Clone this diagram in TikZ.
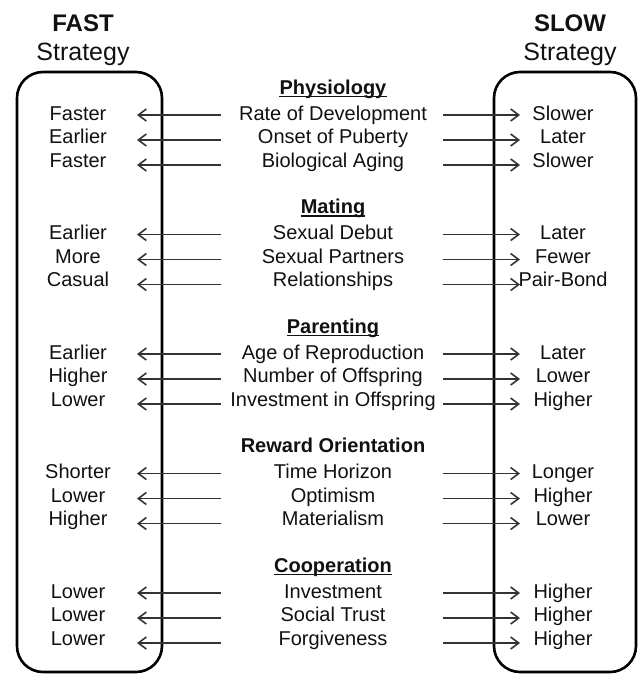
\documentclass[tikz,border=0pt]{standalone}
\usepackage{fontspec}
\setmainfont{Liberation Sans}
\usetikzlibrary{arrows.meta}
\definecolor{ink}{HTML}{111111}
\definecolor{arr}{HTML}{333333}
\begin{document}
\begin{tikzpicture}[x=1pt,y=-1pt,
  txt/.style={inner sep=0pt, anchor=base, font=\fontsize{20}{24}\selectfont, text=ink},
  hdr/.style={inner sep=0pt, anchor=base, font=\fontsize{20}{24}\selectfont\bfseries, text=ink},
  bigbold/.style={inner sep=0pt, anchor=base, font=\fontsize{24}{28}\selectfont\bfseries, text=ink},
  bigtxt/.style={inner sep=0pt, anchor=base, font=\fontsize{25}{30}\selectfont, text=ink},
  panel/.style={draw=black, line width=2.6pt, rounded corners=26pt},
  uline/.style={draw=ink, line width=1.5pt},
  link/.style={draw=arr, line width=1.8pt, -{Straight Barb[length=8pt,width=12pt,line width=1.6pt]}},
]
\useasboundingbox (0,0) rectangle (639,675);
\draw[panel] (17,72) rectangle (162,672);
\draw[panel] (494,72) rectangle (636,672);
\node[bigbold] (fast) at (83,31) {FAST};
\node[bigtxt] (fastS) at (83,60) {Strategy};
\node[bigbold] (slow) at (570,31) {SLOW};
\node[bigtxt] (slowS) at (570,60) {Strategy};
\foreach \k/\hd/\u/\la/\lb/\lc/\ca/\cb/\cc/\ra/\rb/\rc in {
 0/Physiology/1/Faster/Earlier/Faster/Rate of Development/Onset of Puberty/Biological Aging/Slower/Later/Slower,
 1/Mating/1/Earlier/More/Casual/Sexual Debut/Sexual Partners/Relationships/Later/Fewer/Pair-Bond,
 2/Parenting/1/Earlier/Higher/Lower/Age of Reproduction/Number of Offspring/Investment in Offspring/Later/Lower/Higher,
 3/Reward Orientation/0/Shorter/Lower/Higher/Time Horizon/Optimism/Materialism/Longer/Higher/Lower,
 4/Cooperation/1/Lower/Lower/Lower/Investment/Social Trust/Forgiveness/Higher/Higher/Higher}{
  \pgfmathsetmacro\hy{120+119.5*\k}
  \node[hdr] (h\k) at (333,\hy-26) {\hd};
  \ifnum\u=1
    \draw[uline] ([yshift=-2.6pt]h\k.base west) -- ([yshift=-2.6pt]h\k.base east);
  \fi
  \foreach \r/\L/\C/\R in {1/\la/\ca/\ra, 2/\lb/\cb/\rb, 3/\lc/\cc/\rc}{
    \pgfmathsetmacro\by{\hy+23.5*(\r-1)}
    \pgfmathsetmacro\ay{\by-6.5+1.5*\r}
    \node[txt] (l\k\r) at (78,\by) {\L};
    \node[txt] (c\k\r) at (333,\by) {\C};
    \node[txt] (r\k\r) at (563,\by) {\R};
    \coordinate (la\k\r) at (221,\ay);
    \coordinate (lh\k\r) at (137,\ay);
    \coordinate (ra\k\r) at (443,\ay);
    \coordinate (rh\k\r) at (520,\ay);
    \draw[link] (la\k\r) -- (lh\k\r);
    \draw[link] (ra\k\r) -- (rh\k\r);
  }
}
\end{tikzpicture}
\end{document}
